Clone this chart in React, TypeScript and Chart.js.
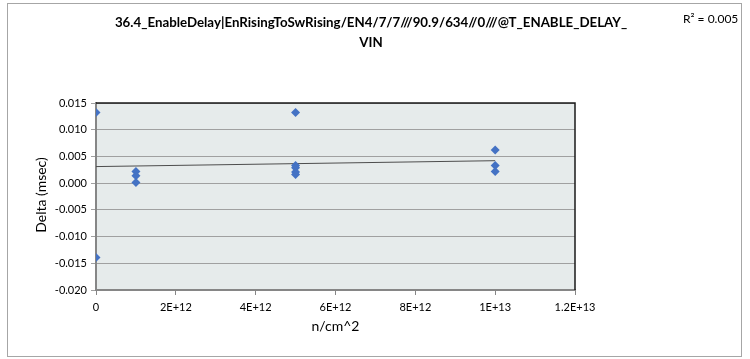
import React, { useEffect, useRef } from "react";
import { Chart, registerables } from "chart.js";

Chart.register(...registerables);

const titleLines = [
  "36.4_EnableDelay|EnRisingToSwRising/EN4/7/7///90.9/634//0///@T_ENABLE_DELAY_",
  "VIN",
];
const rSquaredText = "R² = 0.005";
const xAxisTitle = "n/cm^2";
const yAxisTitle = "Delta (msec)";

const fluences = [0, 1e12, 5e12, 1e13];
const deltasAt0 = [0.0132, -0.0139];
const deltasAt1e12 = [0.0022, 0.0014, 0.0001];
const deltasAt5e12 = [0.0132, 0.0033, 0.0029, 0.0021, 0.0016];
const deltasAt1e13 = [0.0062, 0.0033, 0.0022];
const trendX = [0, 1e13];
const trendY = [0.0031, 0.0042];

const xTickValues = [0, 2e12, 4e12, 6e12, 8e12, 1e13, 1.2e13];
const xTickLabels = ["0", "2E+12", "4E+12", "6E+12", "8E+12", "1E+13", "1.2E+13"];
const yMin = -0.02;
const yMax = 0.015;
const yStep = 0.005;

const FONT = "Lato, 'Open Sans', sans-serif";

export default function App() {
  const ref = useRef<HTMLCanvasElement | null>(null);

  useEffect(() => {
    const canvas = ref.current;
    if (!canvas) return;

    const groups = [deltasAt0, deltasAt1e12, deltasAt5e12, deltasAt1e13];
    const points: { x: number; y: number }[] = [];
    groups.forEach((g, i) => g.forEach((v) => points.push({ x: fluences[i], y: v })));

    const decor = {
      id: "decor",
      beforeDraw(chart: any) {
        const { ctx, chartArea: a } = chart;
        ctx.save();
        ctx.fillStyle = "#ffffff";
        ctx.fillRect(0, 0, chart.width, chart.height);
        ctx.strokeStyle = "#a6a6a6";
        ctx.lineWidth = 1;
        ctx.strokeRect(7.5, 3.5, 734, 353);
        ctx.fillStyle = "#e6ebeb";
        ctx.fillRect(a.left, a.top, a.right - a.left, a.bottom - a.top);
        ctx.restore();
      },
      afterDraw(chart: any) {
        const { ctx, chartArea: a } = chart;
        ctx.save();
        ctx.strokeStyle = "#1a1a1a";
        ctx.lineWidth = 1.5;
        ctx.beginPath();
        ctx.moveTo(a.left, a.top);
        ctx.lineTo(a.right, a.top);
        ctx.lineTo(a.right, a.bottom);
        ctx.stroke();

        ctx.fillStyle = "#000000";
        ctx.textAlign = "center";
        ctx.textBaseline = "middle";
        ctx.font = `bold 13.3px ${FONT}`;
        ctx.fillText(titleLines[0], 371, 23);
        ctx.fillText(titleLines[1], 371, 43);

        ctx.font = `12px ${FONT}`;
        ctx.textAlign = "left";
        ctx.fillText(rSquaredText, 683, 19);

        ctx.font = `14px ${FONT}`;
        ctx.textAlign = "center";
        ctx.fillText(xAxisTitle, (a.left + a.right) / 2, 326);

        ctx.translate(41, 195);
        ctx.rotate(-Math.PI / 2);
        ctx.fillText(yAxisTitle, 0, 0);
        ctx.restore();
      },
    };

    const chart = new Chart(canvas, {
      type: "scatter",
      data: {
        datasets: [
          {
            label: "Delta",
            data: points,
            pointStyle: "rectRot",
            pointRadius: 4.5,
            pointBackgroundColor: "#4472c4",
            pointBorderColor: "#4472c4",
            borderWidth: 0,
            showLine: false,
          },
          {
            label: "Trend",
            data: trendX.map((x, i) => ({ x, y: trendY[i] })),
            showLine: true,
            borderColor: "#4d4d4d",
            borderWidth: 1,
            pointRadius: 0,
          },
        ],
      },
      plugins: [decor],
      options: {
        responsive: false,
        animation: false,
        layout: { padding: { top: 103, left: 8, right: 175, bottom: 39 } },
        plugins: {
          legend: { display: false },
          tooltip: { enabled: false },
          title: { display: false },
        },
        scales: {
          x: {
            type: "linear",
            min: 0,
            max: 1.2e13,
            afterFit: (s: any) => {
              s.height = 30;
            },
            afterBuildTicks: (s: any) => {
              s.ticks = xTickValues.map((v) => ({ value: v }));
            },
            ticks: {
              autoSkip: false,
              maxRotation: 0,
              padding: 6,
              color: "#000000",
              font: { family: FONT, size: 11 },
              callback: (v: any) => {
                const i = xTickValues.indexOf(Number(v));
                return i >= 0 ? xTickLabels[i] : "";
              },
            },
            grid: {
              display: true,
              drawOnChartArea: false,
              drawTicks: true,
              tickLength: 5,
              color: "#868686",
            },
            border: { color: "#868686", width: 2 },
          },
          y: {
            type: "linear",
            min: yMin,
            max: yMax,
            afterFit: (s: any) => {
              s.width = 88;
            },
            ticks: {
              stepSize: yStep,
              padding: 4,
              color: "#000000",
              font: { family: FONT, size: 11 },
              callback: (v: any) => Number(v).toFixed(3),
            },
            grid: {
              color: "#a0a0a0",
              lineWidth: 1,
              tickLength: 5,
            },
            border: { color: "#868686", width: 2 },
          },
        },
      },
    });

    return () => chart.destroy();
  }, []);

  return (
    <div style={{ position: "fixed", left: 0, top: 0, width: 750, height: 359 }}>
      <canvas ref={ref} width={750} height={359} style={{ width: 750, height: 359, display: "block" }} />
    </div>
  );
}
